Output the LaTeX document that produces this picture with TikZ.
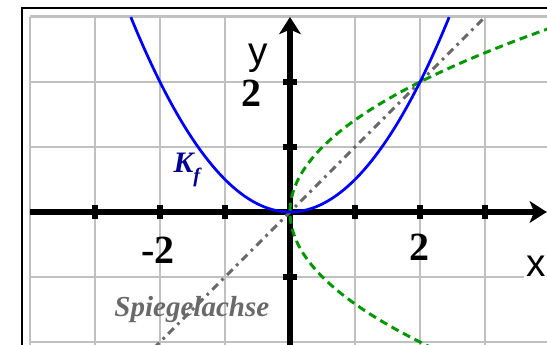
\documentclass[tikz,border=0pt]{standalone}
\usepackage{fontspec}
\setmainfont{Liberation Serif}
\setsansfont{Liberation Sans}
\usetikzlibrary{arrows.meta}
\definecolor{gridgray}{RGB}{192,192,192}
\definecolor{kfblue}{RGB}{0,0,150}
\definecolor{curveblue}{RGB}{0,0,255}
\definecolor{invgreen}{RGB}{0,153,0}
\definecolor{mirrorgray}{RGB}{105,105,105}
\tikzset{
  gridline/.style={gridgray, line width=1.3pt},
  axis/.style={->, line width=2.2pt},
  tick/.style={line width=2.3pt},
  axislabel/.style={font=\sffamily\fontsize{17}{17}\selectfont, fill=white},
  numlabel/.style={font=\bfseries\fontsize{17.5}{17.5}\selectfont},
}

\begin{document}
\begin{tikzpicture}[line width=1.3pt, >={Stealth[length=7.5pt,width=9.5pt,inset=2pt]},
    every node/.style={inner sep=1pt}]
  \useasboundingbox (-4.4615,-2.0462) rectangle (3.9538,3.2615);
  \clip (-4.4615,-2.0462) rectangle (3.9538,3.2615);
  % frame
  \draw (-4.123,-2.2) -- (-4.123,3.138) -- (4.1,3.138);
  % grid
  \foreach \x in {-4,...,4}
    \draw[gridline] (\x,-2.2) -- (\x,3);
  \foreach \y in {-2,...,3}
    \draw[gridline] (-4,\y) -- (4.1,\y);
  % axes
  \coordinate (xstart) at (-4,0);
  \coordinate (xend) at (3.95,0);
  \coordinate (ystart) at (0,-2.2);
  \coordinate (yend) at (0,3);
  \draw[axis] (xstart) -- (xend);
  \draw[axis] (ystart) -- (yend);
  \foreach \x in {-3,-2,-1,1,2,3}
    \draw[tick] (\x,-0.115) -- (\x,0.115);
  \foreach \y in {-1,1,2}
    \draw[tick] (-0.115,\y) -- (0.115,\y);
  % Spiegelachse y=x
  \coordinate (mirrorlow) at (-2.1,-2.1);
  \coordinate (mirrorhigh) at (3,3);
  \draw[mirrorgray, dash pattern=on 3.5pt off 2.2pt on 1.2pt off 2.2pt] (mirrorlow) -- (mirrorhigh);
  % Umkehrrelation
  \draw[invgreen, dash pattern=on 3.5pt off 2.2pt]
    plot[domain=-2.1:2.95, samples=120, smooth] ({\x*\x/2},\x);
  % K_f
  \draw[curveblue, line width=1.2pt]
    plot[domain=-2.449:2.449, samples=120, smooth] (\x,{\x*\x/2});
  % labels
  \node[axislabel] (xlabel) at (3.785,-0.83) {x};
  \node[axislabel] (ylabel) at (-0.49,2.37) {y};
  \node[numlabel] (ytwo) at (-0.585,1.83) {2};
  \node[numlabel] (xmtwo) at (-2.03,-0.585) {-2};
  \node[numlabel] (xtwo) at (1.985,-0.55) {2};
  \node[kfblue, anchor=base west, inner sep=0pt,
    font=\bfseries\itshape\fontsize{13}{13}\selectfont] (kf) at (-1.815,0.6)
    {K\raisebox{-4pt}{\fontsize{9}{9}\selectfont f}};
  \node[mirrorgray, anchor=base west, inner sep=0pt,
    font=\bfseries\itshape\fontsize{12.7}{12.7}\selectfont] (mirror) at (-2.723,-1.615)
    {Spiegelachse};
\end{tikzpicture}
\end{document}
